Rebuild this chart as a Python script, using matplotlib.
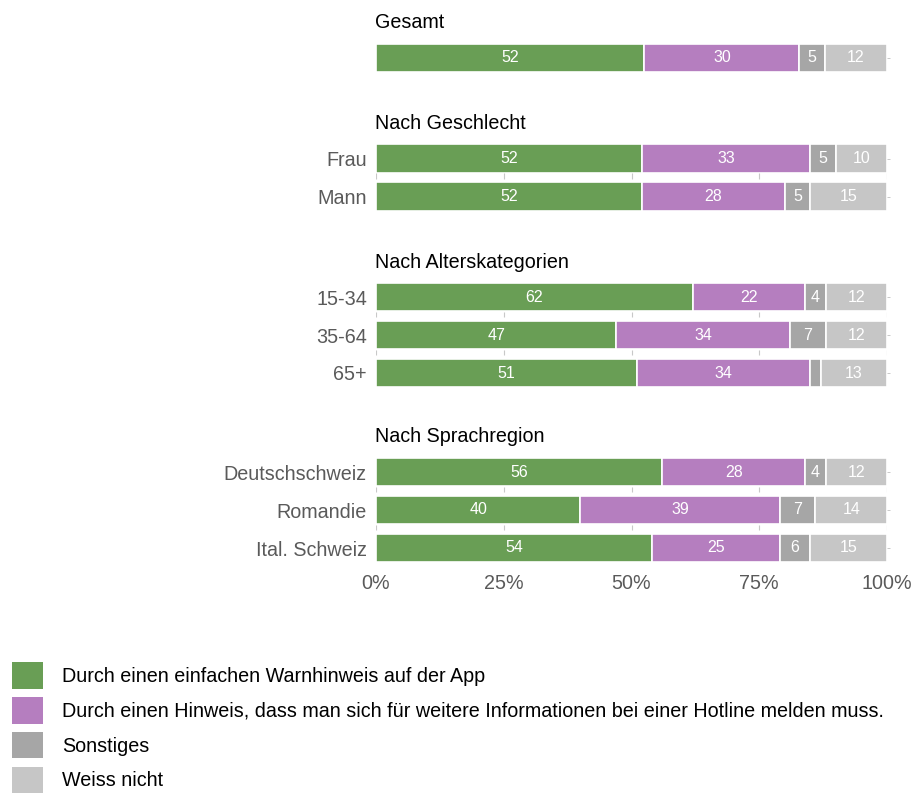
import matplotlib
matplotlib.use("Agg")
import matplotlib.pyplot as plt
import numpy as np
from matplotlib.patches import Patch

plt.rcParams['font.family'] = ['Liberation Sans', 'DejaVu Sans']

# ---- data ----
groups = ["Gesamt", "Nach Geschlecht", "Nach Alterskategorien", "Nach Sprachregion"]
rows = [
    [""],
    ["Frau", "Mann"],
    ["15-34", "35-64", "65+"],
    ["Deutschschweiz", "Romandie", "Ital. Schweiz"],
]
warnhinweis = [[52], [52, 52], [62, 47, 51], [56, 40, 54]]
hotline = [[30], [33, 28], [22, 34, 34], [28, 39, 25]]
sonstiges = [[5], [5, 5], [4, 7, 2], [4, 7, 6]]
weiss_nicht = [[12], [10, 15], [12, 12, 13], [12, 14, 15]]

series_names = [
    "Durch einen einfachen Warnhinweis auf der App",
    "Durch einen Hinweis, dass man sich für weitere Informationen bei einer Hotline melden muss.",
    "Sonstiges",
    "Weiss nicht",
]
colors = ["#699E55", "#B57EBF", "#A6A6A6", "#C6C6C6"]
xticks = [0, 25, 50, 75, 100]
xticklabels = ["0%", "25%", "50%", "75%", "100%"]

# ---- layout (pixels) ----
W, H = 914, 794
fig = plt.figure(figsize=(W / 100, H / 100), dpi=100)
ax_left, ax_right = 376, 887
spacing = 38
first_centers = [58, 158.5, 297, 472]
FS = 14.2

all_series = [warnhinweis, hotline, sonstiges, weiss_nicht]

for gi, g in enumerate(groups):
    n = len(rows[gi])
    top = first_centers[gi] - spacing / 2
    h = spacing * n
    ax = fig.add_axes([ax_left / W, 1 - (top + h) / H, (ax_right - ax_left) / W, h / H])
    vals = np.array([s[gi] for s in all_series], dtype=float)  # 4 x n
    vals = vals / vals.sum(axis=0) * 100
    y = np.arange(n)
    left = np.zeros(n)
    for si in range(4):
        ax.barh(y, vals[si], left=left, height=0.74, color=colors[si],
                edgecolor="white", linewidth=1.2)
        for ri in range(n):
            raw = all_series[si][gi][ri]
            if raw >= 3:
                ax.text(left[ri] + vals[si][ri] / 2, y[ri], str(raw),
                        ha="center", va="center", color="white", fontsize=11.5)
        left += vals[si]
    # small ticks between rows
    for ri in range(n - 1):
        ax.vlines(xticks, ri + 0.39, ri + 0.53, color="#C8C8C8", linewidth=0.8)
    ax.set_xlim(0, 100)
    ax.set_ylim(n - 0.5, -0.5)
    ax.set_yticks(y)
    ax.set_yticklabels(rows[gi], fontsize=FS, color="#5A5A5A")
    ax.tick_params(axis="y", left=False, right=True, labelleft=True, labelright=False,
                   length=2.5, width=0.6, color="#C0C0C0", pad=4)
    for sp in ax.spines.values():
        sp.set_visible(False)
    if gi == len(groups) - 1:
        ax.set_xticks(xticks)
        ax.set_xticklabels(xticklabels, fontsize=FS, color="#5A5A5A")
        ax.tick_params(axis="x", length=0, pad=5)
    else:
        ax.set_xticks([])
    fig.text(ax_left / W - 1 / W, 1 - (top - 16) / H, g, ha="left", va="center",
             fontsize=FS, color="black")

# ---- legend ----
handles = [Patch(facecolor=c, edgecolor="none") for c in colors]
fig.legend(handles, series_names, loc="upper left",
           bbox_to_anchor=(12 / W, 1 - 662 / H), frameon=False, fontsize=FS,
           handlelength=1.55, handleheight=1.7, handletextpad=1.0,
           labelspacing=0.42, borderpad=0, borderaxespad=0)

fig.savefig("out.png", dpi=100)
